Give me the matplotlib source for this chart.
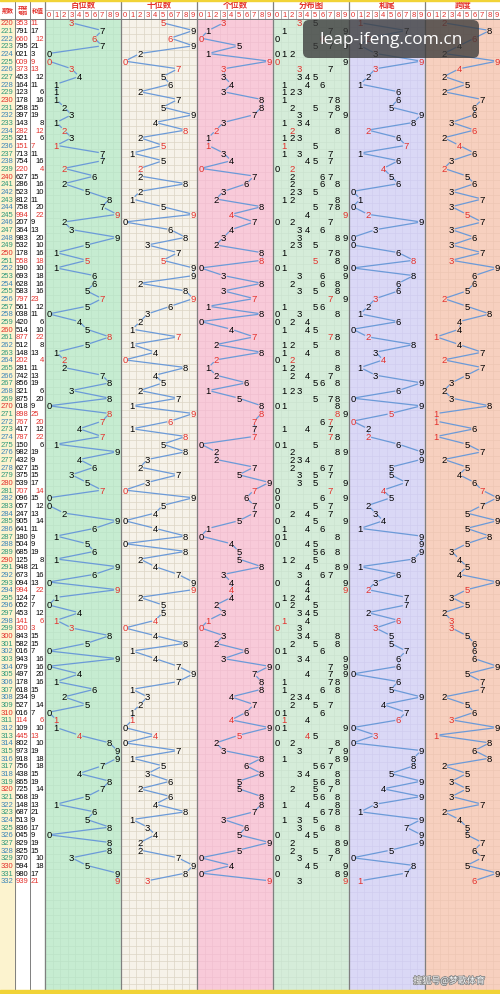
import matplotlib.pyplot as plt
from matplotlib.patches import Rectangle, FancyBboxPatch
import matplotlib.patheffects as pe

# issue numbers, winning numbers and sums
issues = list(range(220, 333))
numbers = [
    "353", "791", "660", "795", "021", "009", "373", "453", "164", "123",
    "178", "258", "397", "143", "282", "321", "151", "713", "754", "220",
    "627", "286", "523", "812", "758", "994", "207", "364", "983", "532",
    "178", "558", "190", "693", "628", "583", "797", "561", "038", "420",
    "514", "877", "512", "148", "202", "281", "742", "856", "321", "875",
    "018", "898", "767", "417", "787", "150", "982", "432", "627", "375",
    "539", "707", "096", "057", "247", "905", "641", "180", "504", "685",
    "125", "948", "673", "094", "994", "124", "052", "453", "141", "300",
    "843", "582", "016", "943", "079", "497", "178", "618", "234", "527",
    "016", "114", "109", "445", "802", "973", "918", "756", "438", "865",
    "725", "568", "148", "687", "513", "836", "045", "829", "825", "370",
    "594", "980", "939",
]
sums = [
    11, 17, 12, 21, 3, 9, 13, 12, 11, 6,
    16, 15, 19, 8, 12, 6, 7, 11, 16, 4,
    15, 16, 10, 11, 20, 22, 9, 13, 20, 10,
    16, 18, 10, 18, 16, 16, 23, 12, 11, 6,
    10, 22, 8, 13, 4, 11, 13, 19, 6, 20,
    9, 25, 20, 12, 22, 6, 19, 9, 15, 15,
    17, 14, 15, 12, 13, 14, 11, 9, 9, 19,
    8, 21, 16, 13, 22, 7, 7, 12, 6, 3,
    15, 15, 7, 16, 16, 20, 16, 15, 9, 14,
    7, 6, 10, 13, 10, 19, 18, 18, 15, 19,
    14, 19, 13, 21, 9, 17, 9, 19, 15, 10,
    18, 17, 21,
]
panel_titles = ["百位数", "十位数", "个位数", "分布图", "和尾", "跨度"]
panel_colors = ["#c6ecd1", "#f6f2e9", "#f8cad9", "#d5ecd9", "#dad8f6", "#f7d0bf"]
grid_colors = ["#bde3c8", "#dcd4c5", "#f0bfcf", "#cbe2cf", "#d0cdef", "#eec6b4"]

RED = "#e3302b"
BLUE = "#6b9ad8"
LINE = "#7f7f7f"

W, H = 500, 995
row_top = 20.0
row_h = 7.66
n = len(numbers)
grid_bottom = 991
p_x0 = 45.0
p_w = 76.0
cw = p_w / 10

fig = plt.figure(figsize=(5, 9.95), dpi=100)
ax = fig.add_axes([0, 0, 1, 1])
ax.set_xlim(0, W)
ax.set_ylim(H, 0)
ax.axis("off")

digits = [[int(c) for c in s] for s in numbers]
group3 = [len(set(d)) < 3 for d in digits]
series = [
    [d[0] for d in digits],
    [d[1] for d in digits],
    [d[2] for d in digits],
    None,
    [s % 10 for s in sums],
    [max(d) - min(d) for d in digits],
]

def yc(i):
    return row_top + (i + 0.5) * row_h

# backgrounds
ax.add_patch(Rectangle((0, 0), W, H, color="white", zorder=0))
ax.add_patch(Rectangle((0, row_top), 15, grid_bottom - row_top, color="#fcf3cf", zorder=0))
for p in range(6):
    x0 = p_x0 + p * p_w
    ax.add_patch(Rectangle((x0, row_top), p_w, grid_bottom - row_top,
                           color=panel_colors[p], zorder=0))
    ax.vlines([x0 + k * cw for k in range(1, 10)], row_top, grid_bottom,
              color=grid_colors[p], lw=0.5, zorder=1)
    ax.hlines([row_top + k * row_h for k in range(1, int((grid_bottom - row_top) / row_h) + 1)],
              x0, x0 + p_w, color=grid_colors[p], lw=0.5, zorder=1)
    # header
    ax.text(x0 + p_w / 2, 5.6, panel_titles[p], color=RED, fontsize=6.0,
            family=["Noto Sans CJK SC"], fontweight="bold", ha="center", va="center")
    for k in range(10):
        ax.add_patch(Rectangle((x0 + k * cw, 11.0), cw, 9.0, fill=False,
                               ec="#999999", lw=0.4, zorder=2))
        ax.text(x0 + (k + 0.5) * cw, 15.6, str(k), color=RED, fontsize=5.5,
                family="Liberation Sans", ha="center", va="center")

# separators
ax.vlines([15, 30], 0, grid_bottom, color=LINE, lw=0.7, zorder=3)
ax.vlines([p_x0 + p * p_w for p in range(6)], 0, grid_bottom, color=LINE, lw=0.9, zorder=3)
ax.hlines([row_top], 0, W, color=LINE, lw=0.7, zorder=3)
ax.add_patch(Rectangle((0, 0), W, 1.8, color="#f1d336", zorder=4))
ax.add_patch(Rectangle((0, grid_bottom), W, H - grid_bottom, color="#f1d336", zorder=4))

# left header
hk = dict(color=RED, family=["Noto Sans CJK SC"], fontweight="bold", ha="center", va="center")
ax.text(7.5, 10.5, "期数", fontsize=4.3, **hk)
ax.text(22.5, 10.5, "开奖\n号码", linespacing=1.0, fontsize=3.7, **hk)
ax.text(37.5, 10.5, "和值", fontsize=4.3, **hk)

# left columns
for i in range(n):
    y = yc(i)
    ic = RED if issues[i] % 10 == 0 else ("#2f9a7a" if i % 2 else "#3d86b8")
    ax.text(0.6, y, str(issues[i]), color=ic, fontsize=5.5, family="Liberation Sans",
            ha="left", va="center")
    col = RED if group3[i] else "black"
    ax.text(15.6, y, numbers[i], color=col, fontsize=5.5, family="Liberation Sans",
            ha="left", va="center")
    if sums[i] % 2:
        ax.text(30.6, y, str(sums[i]), color=col, fontsize=5.5, family="Liberation Sans",
                ha="left", va="center")
    else:
        ax.text(44.0, y, str(sums[i]), color=col, fontsize=5.5, family="Liberation Sans",
                ha="right", va="center")

# panels
gap = 3.2
for p in range(6):
    x0 = p_x0 + p * p_w
    if series[p] is None:
        for i in range(n):
            for d in sorted(set(digits[i])):
                c = RED if digits[i].count(d) > 1 else "black"
                ax.text(x0 + (d + 0.5) * cw, yc(i), str(d), color=c, fontsize=6.8,
                        family="Liberation Sans", ha="center", va="center", zorder=6)
        continue
    vals = series[p]
    xs = [x0 + (v + 0.5) * cw for v in vals]
    ys = [yc(i) for i in range(n)]
    for i in range(n - 1):
        dx, dy = xs[i + 1] - xs[i], ys[i + 1] - ys[i]
        L = (dx ** 2 + dy ** 2) ** 0.5
        if L <= 2 * gap + 0.5:
            continue
        ux, uy = dx / L, dy / L
        ax.plot([xs[i] + ux * gap, xs[i + 1] - ux * gap],
                [ys[i] + uy * gap, ys[i + 1] - uy * gap],
                color=BLUE, lw=0.9, zorder=5, solid_capstyle="butt")
    for i in range(n):
        c = RED if group3[i] else "black"
        ax.text(xs[i], ys[i], str(vals[i]), color=c, fontsize=6.8,
                family="Liberation Sans", ha="center", va="center", zorder=6)

# watermarks
ax.add_patch(FancyBboxPatch((303, 21), 176, 38, boxstyle="round,pad=0,rounding_size=6",
                            fc="#3a3a3a", ec="none", alpha=0.78, zorder=10))
ax.text(391, 40.5, "leap-ifeng.com.cn", color="white", fontsize=12.5,
        family="Open Sans", ha="center", va="center", zorder=11)
ax.text(449, 982, "搜狐号@梦歌体育", color="#f4f4f4", fontsize=6.5,
        family=["Noto Sans CJK SC"], ha="center", va="center", zorder=11,
        path_effects=[pe.withStroke(linewidth=1.2, foreground="#8a8a8a")])

fig.savefig("out.png", dpi=100)
